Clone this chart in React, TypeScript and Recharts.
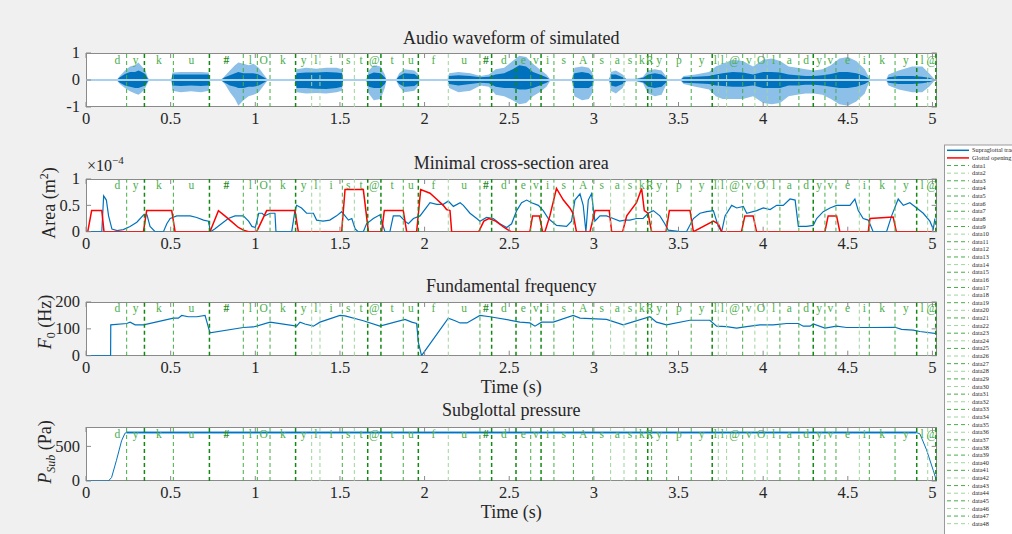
import React from "react"
import { ComposedChart, Line, Area, Scatter, XAxis, YAxis, ReferenceLine } from "recharts"

const FONT = "'Liberation Serif', 'Times New Roman', serif"
const W = 1012
const H = 534
const PLOT_L = 86
const PLOT_R = 936.7
const PLOT_W = PLOT_R - PLOT_L
const MT = 12
const MB = 30
const XMAX = 5.025
const X_TICKS = [0, 0.5, 1, 1.5, 2, 2.5, 3, 3.5, 4, 4.5, 5]
const AXIS_C = "#8a8a8a"
const TEXT_C = "#262626"
const BLUE = "#0072bd"
const LIGHT_BLUE = "#8cc0e8"
const RED = "#ff0000"

// phoneme segmentation (s)
const PHONEMES = [
  "d", "y", "k", "u", "#", "l", "O", "k", "y", "l", "i", "s", "t", "@", "t", "u", "f", "u", "#",
  "d", "e", "v", "i", "s", "A", "s", "a", "s", "k", "R", "y", "p", "y", "l", "l", "@", "v", "O", "l",
  "a", "d", "y", "v", "e", "i", "k", "y", "l", "@",
]
const BOUNDARIES = [
  0.13, 0.24, 0.345, 0.516, 0.729, 0.929, 1.012, 1.087, 1.238, 1.333, 1.382, 1.514, 1.585, 1.664,
  1.742, 1.874, 1.963, 2.14, 2.327, 2.396, 2.54, 2.627, 2.688, 2.764, 2.879, 2.993, 3.099, 3.178,
  3.249, 3.318, 3.341, 3.43, 3.575, 3.699, 3.735, 3.784, 3.879, 3.951, 4.024, 4.099, 4.211, 4.296,
  4.365, 4.43, 4.568, 4.627, 4.779, 4.907, 4.972, 5.02,
]
const STRONG = new Set([0.345, 0.729, 1.238, 1.664, 1.742, 1.963, 2.396, 2.54, 2.688, 3.318, 3.699, 4.296, 4.907, 5.02])
const FAINT = new Set([1.333, 1.382, 1.585, 2.14, 3.099, 3.178, 3.735, 3.784, 3.951, 4.024, 4.568, 4.972])

// audio waveform envelope (outer / inner)
const waveT = [
  0, 0.18, 0.2, 0.23, 0.26, 0.29, 0.31, 0.33, 0.35, 0.365, 0.375,
  0.505, 0.51, 0.56, 0.62, 0.68, 0.725, 0.732,
  0.795, 0.82, 0.85, 0.88, 0.9, 0.93, 0.96, 0.99, 1.02, 1.05, 1.075,
  1.234, 1.245, 1.3, 1.36, 1.42, 1.48, 1.512, 1.52,
  1.655, 1.67, 1.7, 1.74, 1.765, 1.775,
  1.83, 1.85, 1.88, 1.94, 1.965, 1.97,
  2.135, 2.145, 2.2, 2.27, 2.33, 2.38, 2.42, 2.47, 2.52, 2.56, 2.6, 2.64, 2.68, 2.72, 2.745,
  2.87, 2.885, 2.93, 2.97, 2.99, 3.0,
  3.09, 3.1, 3.13, 3.17, 3.19, 3.25, 3.29, 3.32, 3.36, 3.4, 3.425, 3.435,
  3.51, 3.53, 3.6, 3.68, 3.72, 3.76, 3.82, 3.88, 3.94, 4.0, 4.05, 4.1, 4.15, 4.2, 4.25, 4.3, 4.35, 4.4, 4.45, 4.5, 4.55, 4.6, 4.625, 4.63,
  4.725, 4.74, 4.8, 4.88, 4.94, 4.98, 5.01, 5.02, 5.025,
]
const waveHi = [
  0, 0, 0.15, 0.35, 0.5, 0.55, 0.65, 0.5, 0.35, 0.1, 0,
  0, 0.28, 0.3, 0.3, 0.3, 0.28, 0,
  0, 0.15, 0.35, 0.55, 0.65, 0.6, 0.55, 0.6, 0.45, 0.2, 0,
  0, 0.4, 0.45, 0.42, 0.45, 0.45, 0.4, 0,
  0, 0.35, 0.55, 0.5, 0.2, 0,
  0, 0.25, 0.4, 0.35, 0.2, 0,
  0, 0.25, 0.3, 0.25, 0.15, 0.2, 0.4, 0.45, 0.7, 0.9, 0.85, 0.6, 0.4, 0.2, 0,
  0, 0.45, 0.5, 0.45, 0.3, 0,
  0, 0.3, 0.35, 0.2, 0.05, 0.05, 0.12, 0.35, 0.4, 0.35, 0.15, 0,
  0, 0.15, 0.2, 0.3, 0.5, 0.6, 0.75, 0.7, 0.5, 0.75, 0.8, 0.7, 0.5, 0.45, 0.4, 0.35, 0.4, 0.55, 0.8, 0.85, 0.7, 0.4, 0.1, 0,
  0, 0.2, 0.35, 0.5, 0.5, 0.25, 0.05, 0, 0,
]
const waveLo = [
  0, 0, -0.15, -0.3, -0.42, -0.5, -0.55, -0.45, -0.3, -0.1, 0,
  0, -0.4, -0.45, -0.42, -0.45, -0.4, 0,
  0, -0.15, -0.45, -0.7, -0.95, -0.75, -0.6, -0.55, -0.45, -0.2, 0,
  0, -0.45, -0.5, -0.48, -0.5, -0.45, -0.4, 0,
  0, -0.5, -0.75, -0.7, -0.3, 0,
  0, -0.25, -0.45, -0.4, -0.2, 0,
  0, -0.3, -0.45, -0.4, -0.2, -0.25, -0.55, -0.6, -0.75, -0.9, -0.85, -0.6, -0.45, -0.25, 0,
  0, -0.6, -0.75, -0.7, -0.5, 0,
  0, -0.4, -0.5, -0.3, -0.05, -0.05, -0.12, -0.5, -0.6, -0.55, -0.2, 0,
  0, -0.15, -0.25, -0.35, -0.6, -0.7, -0.7, -0.7, -0.6, -0.85, -0.9, -0.85, -0.6, -0.55, -0.5, -0.5, -0.55, -0.7, -0.9, -0.95, -0.8, -0.5, -0.1, 0,
  0, -0.2, -0.35, -0.45, -0.45, -0.25, -0.05, 0, 0,
]
const coreHi = [
  0, 0, 0.1, 0.22, 0.3, 0.3, 0.35, 0.3, 0.22, 0.05, 0,
  0, 0.2, 0.2, 0.2, 0.2, 0.2, 0,
  0, 0.1, 0.18, 0.25, 0.3, 0.25, 0.25, 0.25, 0.2, 0.1, 0,
  0, 0.25, 0.28, 0.28, 0.3, 0.28, 0.25, 0,
  0, 0.2, 0.28, 0.25, 0.1, 0,
  0, 0.15, 0.25, 0.22, 0.1, 0,
  0, 0.15, 0.18, 0.15, 0.1, 0.12, 0.2, 0.25, 0.4, 0.55, 0.5, 0.3, 0.2, 0.1, 0,
  0, 0.25, 0.3, 0.25, 0.15, 0,
  0, 0.2, 0.2, 0.1, 0.04, 0.04, 0.08, 0.2, 0.25, 0.2, 0.08, 0,
  0, 0.1, 0.12, 0.15, 0.2, 0.25, 0.3, 0.28, 0.2, 0.3, 0.3, 0.28, 0.2, 0.18, 0.15, 0.15, 0.18, 0.22, 0.3, 0.3, 0.25, 0.15, 0.05, 0,
  0, 0.1, 0.15, 0.15, 0.12, 0.08, 0.02, 0, 0,
]
const coreLo = [
  0, 0, -0.1, -0.2, -0.25, -0.3, -0.3, -0.25, -0.2, -0.05, 0,
  0, -0.2, -0.22, -0.2, -0.22, -0.2, 0,
  0, -0.1, -0.2, -0.25, -0.3, -0.3, -0.25, -0.25, -0.2, -0.1, 0,
  0, -0.3, -0.3, -0.32, -0.33, -0.3, -0.25, 0,
  0, -0.25, -0.3, -0.3, -0.15, 0,
  0, -0.15, -0.25, -0.22, -0.1, 0,
  0, -0.15, -0.2, -0.15, -0.1, -0.12, -0.25, -0.3, -0.3, -0.35, -0.35, -0.3, -0.2, -0.1, 0,
  0, -0.3, -0.3, -0.3, -0.2, 0,
  0, -0.2, -0.25, -0.15, -0.04, -0.04, -0.08, -0.25, -0.3, -0.25, -0.1, 0,
  0, -0.1, -0.12, -0.15, -0.2, -0.22, -0.25, -0.25, -0.2, -0.3, -0.3, -0.3, -0.2, -0.2, -0.18, -0.18, -0.2, -0.25, -0.3, -0.3, -0.25, -0.15, -0.05, 0,
  0, -0.1, -0.15, -0.15, -0.12, -0.08, -0.02, 0, 0,
]

// minimal cross-section area (x1e-4 m^2)
const supraT = [
  0, 0.093, 0.104, 0.12, 0.133, 0.153, 0.183, 0.22, 0.26, 0.3, 0.34, 0.36, 0.378, 0.408, 0.457, 0.477,
  0.497, 0.536, 0.575, 0.615, 0.654, 0.694, 0.723, 0.735, 0.76, 0.8, 0.84, 0.88, 0.929, 0.96, 0.98, 1.0,
  1.02, 1.04, 1.057, 1.087, 1.116, 1.122, 1.215, 1.234, 1.244, 1.273, 1.303, 1.343, 1.362, 1.4, 1.44,
  1.48, 1.51, 1.53, 1.55, 1.57, 1.59, 1.608, 1.638, 1.657, 1.697, 1.736, 1.756, 1.766, 1.795, 1.815,
  1.854, 1.884, 1.904, 1.934, 1.973, 2.032, 2.072, 2.11, 2.14, 2.17, 2.21, 2.229, 2.268, 2.308, 2.327,
  2.366, 2.406, 2.445, 2.485, 2.514, 2.544, 2.573, 2.603, 2.632, 2.672, 2.701, 2.731, 2.78, 2.839, 2.868,
  2.888, 2.918, 2.937, 2.953, 2.967, 2.986, 3.006, 3.036, 3.075, 3.114, 3.153, 3.183, 3.213, 3.252, 3.291,
  3.321, 3.351, 3.39, 3.419, 3.439, 3.508, 3.547, 3.588, 3.627, 3.666, 3.706, 3.735, 3.755, 3.775, 3.814,
  3.844, 3.883, 3.903, 3.962, 4.001, 4.041, 4.08, 4.119, 4.159, 4.189, 4.208, 4.257, 4.296, 4.316, 4.355,
  4.395, 4.434, 4.473, 4.513, 4.542, 4.562, 4.591, 4.621, 4.65, 4.729, 4.759, 4.798, 4.828, 4.867, 4.907,
  4.946, 4.985, 5.005, 5.015,
]
const supraArea = [
  0, 0, 0.68, 0.6, 0.3, 0.05, 0.02, 0.04, 0.1, 0.18, 0.32, 0.32, 0.1, 0, 0, 0.15,
  0.25, 0.3, 0.3, 0.3, 0.27, 0.22, 0.2, 0, 0.05, 0.15, 0.25, 0.3, 0.3, 0.2, 0.1, 0.08,
  0.35, 0.35, 0.3, 0.35, 0.35, 0, 0, 0.4, 0.5, 0.45, 0.35, 0.35, 0.22, 0.2, 0.22,
  0.3, 0.38, 0.3, 0.22, 0.25, 0.05, 0, 0, 0.15, 0.25, 0.32, 0.1, 0, 0, 0.3,
  0.3, 0.2, 0.15, 0.25, 0.3, 0.55, 0.52, 0.52, 0.58, 0.48, 0.55, 0.5, 0.35, 0.25, 0.2,
  0.27, 0.25, 0.15, 0.08, 0.15, 0.4, 0.55, 0.6, 0.55, 0.5, 0.4, 0.25, 0.12, 0.1, 0.2,
  0.6, 0.72, 0.5, 0, 0.6, 0.72, 0.2, 0.3, 0.3, 0.25, 0.2, 0.22, 0.22, 0.25, 0.25,
  0.35, 0.4, 0.3, 0.15, 0.03, 0, 0, 0.25, 0.35, 0.38, 0.4, 0.1, 0, 0.3, 0.5,
  0.45, 0.48, 0.35, 0.4, 0.45, 0.42, 0.5, 0.5, 0.62, 0.6, 0.1, 0.1, 0.12, 0.25, 0.38,
  0.45, 0.5, 0.5, 0.5, 0.62, 0.4, 0.25, 0.22, 0, 0, 0.3, 0.62, 0.5, 0.55, 0.45,
  0.35, 0.2, 0.05, 0.25,
]
const glotT = [
  0, 0.01, 0.033, 0.093, 0.106, 0.339, 0.358, 0.506, 0.526, 0.732, 0.782, 0.82, 0.86, 0.9, 0.93, 0.96,
  1.008, 1.067, 1.234, 1.254, 1.51, 1.53, 1.638, 1.668, 1.746, 1.762, 1.874, 1.894, 1.953, 1.977, 2.032,
  2.07, 2.11, 2.13, 2.15, 2.16, 2.32, 2.35, 2.38, 2.42, 2.47, 2.51, 2.622, 2.638, 2.678, 2.697, 2.711,
  2.74, 2.779, 2.82, 2.858, 2.877, 2.897, 2.977, 3.007, 3.091, 3.105, 3.17, 3.194, 3.252, 3.282, 3.298,
  3.32, 3.341, 3.426, 3.446, 3.568, 3.588, 3.706, 3.735, 3.755, 3.872, 3.892, 3.941, 3.961, 4.365,
  4.384, 4.434, 4.453, 4.621, 4.631, 4.768, 4.787, 5.025,
]
const glotArea = [
  0, 0, 0.4, 0.4, 0, 0, 0.4, 0.4, 0, 0, 0.4, 0.3, 0.19, 0.08, 0.03, 0,
  0, 0.4, 0.4, 0, 0, 0.8, 0.8, 0, 0, 0.4, 0.4, 0, 0, 0.8, 0.73,
  0.62, 0.5, 0.42, 0.4, 0, 0, 0.2, 0.25, 0.2, 0.08, 0, 0, 0.3, 0.3, 0, 0,
  0.3, 0.82, 0.6, 0.45, 0.35, 0, 0, 0.4, 0.4, 0, 0, 0.3, 0.55, 0.82, 0.4,
  0.35, 0, 0, 0.4, 0.4, 0, 0.2, 0.15, 0, 0, 0.3, 0.3, 0, 0,
  0.3, 0.3, 0, 0, 0.25, 0.28, 0, 0,
]

// fundamental frequency (Hz)
const f0T = [
  0, 0.145, 0.146, 0.24, 0.26, 0.29, 0.34, 0.516, 0.545, 0.565, 0.604, 0.654, 0.703, 0.732, 0.929, 0.988,
  1.087, 1.244, 1.264, 1.293, 1.343, 1.382, 1.5, 1.53, 1.638, 1.736, 1.884, 1.924, 1.953, 1.963, 1.982,
  2.14, 2.18, 2.21, 2.25, 2.327, 2.386, 2.524, 2.563, 2.622, 2.652, 2.691, 2.76, 2.878, 2.918, 3.075,
  3.173, 3.331, 3.37, 3.429, 3.567, 3.685, 3.725, 3.784, 3.843, 3.902, 3.981, 4.06, 4.139, 4.208, 4.237,
  4.277, 4.296, 4.365, 4.434, 4.493, 4.631, 4.779, 4.818, 4.887, 4.926, 5.025,
]
const f0Hz = [
  0, 0, 115, 120, 125, 115, 115, 140, 140, 150, 145, 145, 150, 85, 105, 107,
  125, 110, 125, 118, 110, 125, 150, 148, 130, 110, 135, 125, 120, 50, 0,
  140, 130, 122, 122, 150, 145, 130, 125, 122, 110, 125, 125, 150, 140, 135,
  115, 145, 125, 115, 132, 132, 110, 108, 103, 108, 115, 115, 120, 120, 110,
  110, 118, 103, 110, 105, 105, 106, 98, 95, 90, 82,
]

// subglottal pressure (Pa)
const pressT = [0, 0.132, 0.151, 0.18, 0.21, 0.23, 0.24, 4.906, 4.926, 4.965, 5.005, 5.025]
const pressPa = [0, 0, 50, 300, 580, 690, 700, 700, 680, 450, 150, 0]
const plateauT = [0.24, 4.906]
const plateauPa = [700, 700]

const LEGEND_NAMES = ["Supraglottal tract", "Glottal opening", ...PHONEMES.slice(0, 48).map((_, i) => `data${i + 1}`)]

const waveData = waveT.map((t, i) => ({ t, outer: [waveLo[i], waveHi[i]], inner: [coreLo[i], coreHi[i]] }))
const zeroData = [{ t: 0, v: 0 }, { t: XMAX, v: 0 }]
const supraData = supraT.map((t, i) => ({ t, v: supraArea[i] }))
const glotData = glotT.map((t, i) => ({ t, v: glotArea[i] }))
const f0Data = f0T.map((t, i) => ({ t, v: f0Hz[i] }))
const pressData = pressT.map((t, i) => ({ t, v: pressPa[i] }))
const plateauData = plateauT.map((t, i) => ({ t, v: plateauPa[i] }))

function makeXTick(plotH: number) {
  return function XTick(props: any) {
    const { x, y, payload } = props
    return (
      <g>
        <line x1={x} x2={x} y1={y} y2={y - 5} stroke={AXIS_C} />
        <line x1={x} x2={x} y1={y - plotH} y2={y - plotH + 5} stroke={AXIS_C} />
        <text x={x} y={y + 17} textAnchor="middle" fontFamily={FONT} fontSize={16.5} fill={TEXT_C}>
          {String(payload.value)}
        </text>
      </g>
    )
  }
}

function YTick(props: any) {
  const { x, y, payload } = props
  return (
    <g>
      <line x1={x} x2={x + 5} y1={y} y2={y} stroke={AXIS_C} />
      <line x1={x + PLOT_W} x2={x + PLOT_W - 5} y1={y} y2={y} stroke={AXIS_C} />
      <text x={x - 6} y={y} dy="0.33em" textAnchor="end" fontFamily={FONT} fontSize={16.5} fill={TEXT_C}>
        {String(payload.value)}
      </text>
    </g>
  )
}

function PhonemeMark(props: any) {
  const { cx, payload } = props
  const hash = payload.label === "#"
  return (
    <text x={cx} y={MT + 10.5} textAnchor="middle" fontFamily={FONT} fontSize={11.5}
      fontWeight={hash ? "bold" : "normal"} fill={hash ? "#1f8a1f" : "#4cae4c"}>
      {payload.label}
    </text>
  )
}

function Panel({ top, bottom, yDomain, yTicks, children }: {
  top: number; bottom: number; yDomain: [number, number]; yTicks: number[]; children: React.ReactNode
}) {
  const plotH = bottom - top
  const marks = PHONEMES.map((label, i) => ({ t: (BOUNDARIES[i] + BOUNDARIES[i + 1]) / 2, v: yDomain[1], label }))
  return (
    <>
      <div style={{ position: "absolute", left: PLOT_L, top, width: PLOT_W, height: plotH, background: "#fff", boxShadow: `inset 0 0 0 1px ${AXIS_C}` }} />
      <div style={{ position: "absolute", left: 0, top: top - MT }}>
        <ComposedChart width={W} height={plotH + MT + MB} margin={{ top: MT, right: W - PLOT_R, bottom: 0, left: 0 }}>
          <XAxis dataKey="t" type="number" domain={[0, XMAX]} ticks={X_TICKS} interval={0} allowDataOverflow
            height={MB} axisLine={false} tickLine={false} tickSize={0} tickMargin={0} tick={makeXTick(plotH)} />
          <YAxis dataKey="v" type="number" domain={yDomain} ticks={yTicks} interval={0} allowDataOverflow
            width={PLOT_L} axisLine={false} tickLine={false} tickSize={0} tickMargin={0} tick={YTick} />
          {children}
          {BOUNDARIES.slice(1).map(b => (
            <ReferenceLine key={b} x={b} strokeDasharray="4 3"
              stroke={STRONG.has(b) ? "#128a12" : FAINT.has(b) ? "#9dd59d" : "#45ad45"}
              strokeWidth={STRONG.has(b) ? 1.5 : 1} />
          ))}
          <Scatter data={marks} dataKey="v" shape={PhonemeMark} isAnimationActive={false} />
        </ComposedChart>
      </div>
    </>
  )
}

export default function App() {
  const legendTop = 145
  const rowH = 7.62
  return (
    <div style={{ position: "absolute", left: 0, top: 0, width: W, height: H, background: "#f0f0f0", overflow: "hidden", fontFamily: FONT }}>
      <Panel top={53.3} bottom={107.3} yDomain={[-1, 1]} yTicks={[-1, 0, 1]}>
        <Line data={zeroData} dataKey="v" stroke="#a9d0ee" strokeWidth={2} dot={false} activeDot={false} isAnimationActive={false} />
        <Area data={waveData} dataKey="outer" type="linear" stroke="none" fill={LIGHT_BLUE} fillOpacity={1} isAnimationActive={false} activeDot={false} />
        <Area data={waveData} dataKey="inner" type="linear" stroke="none" fill={BLUE} fillOpacity={1} isAnimationActive={false} activeDot={false} />
      </Panel>
      <Panel top={179} bottom={231.7} yDomain={[0, 1]} yTicks={[0, 0.5, 1]}>
        <Line data={supraData} dataKey="v" stroke={BLUE} strokeWidth={1.2} dot={false} activeDot={false} isAnimationActive={false} />
        <Line data={glotData} dataKey="v" stroke={RED} strokeWidth={1.5} dot={false} activeDot={false} isAnimationActive={false} />
      </Panel>
      <Panel top={302.3} bottom={356} yDomain={[0, 200]} yTicks={[0, 100, 200]}>
        <Line data={f0Data} dataKey="v" stroke={BLUE} strokeWidth={1.2} dot={false} activeDot={false} isAnimationActive={false} />
      </Panel>
      <Panel top={426.7} bottom={480.7} yDomain={[0, 780]} yTicks={[0, 500]}>
        <Line data={plateauData} dataKey="v" stroke="#8cc3ec" strokeWidth={3} dot={false} activeDot={false} isAnimationActive={false} />
        <Line data={pressData} dataKey="v" stroke={BLUE} strokeWidth={1} dot={false} activeDot={false} isAnimationActive={false} />
      </Panel>

      <svg width={W} height={H} style={{ position: "absolute", left: 0, top: 0, pointerEvents: "none" }}>
        <g fontFamily={FONT} fill={TEXT_C} fontSize={18} textAnchor="middle">
          <text x={511.3} y={44}>Audio waveform of simulated</text>
          <text x={511.3} y={169.3}>Minimal cross-section area</text>
          <text x={511.3} y={291.7}>Fundamental frequency</text>
          <text x={511.3} y={415.7}>Subglottal pressure</text>
          <text x={511.3} y={393}>Time (s)</text>
          <text x={511.3} y={518.3}>Time (s)</text>
          <text transform="translate(55,203) rotate(-90)">
            Area (m<tspan dy={-7} fontSize={12}>2</tspan><tspan dy={7}>)</tspan>
          </text>
          <text transform="translate(51,322) rotate(-90)">
            <tspan fontStyle="italic">F</tspan><tspan dy={4} fontSize={12}>0</tspan><tspan dy={-4}> (Hz)</tspan>
          </text>
          <text transform="translate(51,452) rotate(-90)">
            <tspan fontStyle="italic">P</tspan><tspan dy={4} fontSize={12} fontStyle="italic">Sub</tspan><tspan dy={-4}> (Pa)</tspan>
          </text>
        </g>
        <text x={87} y={170.5} fontFamily={FONT} fontSize={16} fill={TEXT_C}>
          ×10<tspan dy={-7} fontSize={11}>−4</tspan>
        </text>

        <rect x={944.5} y={legendTop} width={100} height={420} fill="#fff" stroke="#9a9a9a" />
        {LEGEND_NAMES.map((name, i) => {
          const y = legendTop + 5.3 + i * rowH
          const color = i === 0 ? BLUE : i === 1 ? RED : i % 2 === 1 ? "#9dd59d" : "#45ad45"
          return (
            <g key={name}>
              <line x1={947} x2={969} y1={y} y2={y} stroke={color} strokeWidth={i < 2 ? 1.5 : 1}
                strokeDasharray={i < 2 ? undefined : "4 3"} />
              <text x={972} y={y} dy="0.33em" fontFamily={FONT} fontSize={6.3} fill={TEXT_C}>{name}</text>
            </g>
          )
        })}
      </svg>
    </div>
  )
}
